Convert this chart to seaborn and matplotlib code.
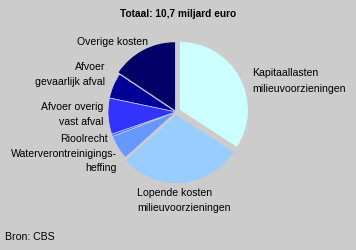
import matplotlib
matplotlib.use("Agg")
import matplotlib.pyplot as plt
import seaborn as sns

# Data (miljard euro), drawn counterclockwise starting at 12 o'clock
categories = ["Overige kosten", "Afvoer gevaarlijk afval", "Afvoer overig vast afval",
              "Rioolrecht", "Waterverontreinigingsheffing",
              "Lopende kosten milieuvoorzieningen", "Kapitaallasten milieuvoorzieningen"]
values = [1.67, 0.65, 0.92, 0.06, 0.62, 3.12, 3.65]
colors = ["#000066", "#000099", "#3333FF", "#3366FF", "#6699FF", "#99CCFF", "#CCFFFF"]
explode_frac = [0.03, 0, 0, 0, 0, 0.045, 0.065]  # fraction of radius
title = "Totaal: 10,7 miljard euro"
source = "Bron: CBS"

sns.set_style("white", {"axes.facecolor": "#CCCCCC", "figure.facecolor": "#CCCCCC"})
plt.rcParams["font.family"] = ["Liberation Sans", "DejaVu Sans"]

W, H = 356, 250
fig = plt.figure(figsize=(W / 100, H / 100), dpi=100, facecolor="#CCCCCC")
ax = fig.add_axes([0, 0, 1, 1])
ax.set_facecolor("#CCCCCC")

cx, cy, r = 176, H - 112, 68
# matplotlib's explode offset is in data units, so scale by the radius
wedges, _ = ax.pie(values, colors=colors, explode=[e * r for e in explode_frac],
                   startangle=90, counterclock=True,
                   center=(cx, cy), radius=r, frame=True,
                   wedgeprops=dict(linewidth=0.5, edgecolor="#CCCCFF"))
for i, w in enumerate(wedges):
    if explode_frac[i] > 0:
        w.set_linewidth(0)
ax.set_xlim(0, W)
ax.set_ylim(0, H)
ax.set_aspect("equal")
ax.axis("off")

fs = 7.6
def t(x, y, s, ha="left", **kw):
    ax.text(x, H - y, s, ha=ha, va="center", color="black", **kw)

t(178, 14, title, ha="center", fontweight="bold", fontsize=7.3)
t(148, 42, "Overige kosten", ha="right", fontsize=fs)
t(105, 67, "Afvoer", ha="right", fontsize=fs)
t(105, 82, "gevaarlijk afval", ha="right", fontsize=fs)
t(103, 107, "Afvoer overig", ha="right", fontsize=fs)
t(103, 122, "vast afval", ha="right", fontsize=fs)
t(108, 139, "Rioolrecht", ha="right", fontsize=fs)
t(117, 154, "Waterverontreinigings-", ha="right", fontsize=fs)
t(117, 168, "heffing", ha="right", fontsize=fs)
t(137, 193, "Lopende kosten", fontsize=fs)
t(137, 208, "milieuvoorzieningen", fontsize=fs)
t(252, 73, "Kapitaallasten", fontsize=fs)
t(252, 89, "milieuvoorzieningen", fontsize=fs)
t(5, 237, source, fontsize=fs)

fig.savefig("out.png", dpi=100, facecolor="#CCCCCC")
